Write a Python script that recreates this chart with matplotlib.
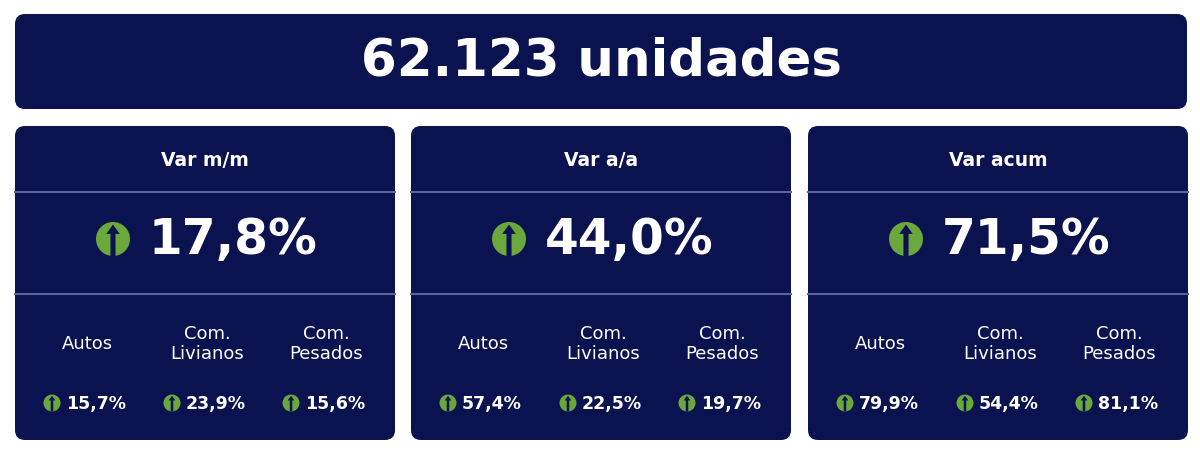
import matplotlib.pyplot as plt
from matplotlib.patches import FancyBboxPatch, Circle, Polygon

total_label = "62.123 unidades"
card_titles = ["Var m/m", "Var a/a", "Var acum"]
card_values = ["17,8%", "44,0%", "71,5%"]
segments = ["Autos", "Com.\nLivianos", "Com.\nPesados"]
segment_values = [
    ["15,7%", "23,9%", "15,6%"],
    ["57,4%", "22,5%", "19,7%"],
    ["79,9%", "54,4%", "81,1%"],
]

NAVY = "#0b1250"
GREEN = "#6aa83c"
LINE = "#5a6499"

W, H = 1200, 456
fig = plt.figure(figsize=(12, 4.56), dpi=100)
ax = fig.add_axes([0, 0, 1, 1])
ax.set_xlim(0, W)
ax.set_ylim(H, 0)
ax.axis("off")


def box(x0, y0, x1, y1):
    ax.add_patch(FancyBboxPatch((x0, y0), x1 - x0, y1 - y0,
                                boxstyle="round,pad=0,rounding_size=10",
                                fc=NAVY, ec="none"))


def up_icon(cx, cy, r):
    ax.add_patch(Circle((cx, cy), r, fc=GREEN, ec="none"))
    sw = r * 0.15
    hw = r * 0.4
    top = cy - r * 0.85
    neck = cy - r * 0.3
    bot = cy + r
    ax.add_patch(Polygon([(cx, top), (cx + hw, neck), (cx + sw, neck),
                          (cx + sw, bot), (cx - sw, bot), (cx - sw, neck),
                          (cx - hw, neck)], closed=True, fc=NAVY, ec="none"))


# banner
box(15, 15, 1187, 110)
ax.text(601, 62, total_label, color="white", fontsize=37, fontweight="bold",
        ha="center", va="center")

card_x = [15, 411, 808]
card_w = 380
sub_offsets = [72, 192, 311]

for i, x0 in enumerate(card_x):
    box(x0, 127, x0 + card_w, 441)
    cx = x0 + card_w / 2
    ax.text(cx, 161, card_titles[i], color="white", fontsize=13.5,
            fontweight="bold", ha="center", va="center")
    ax.plot([x0, x0 + card_w], [193, 193], color=LINE, lw=1.5)
    ax.plot([x0, x0 + card_w], [295, 295], color=LINE, lw=1.5)
    up_icon(x0 + 98, 240, 17)
    ax.text(x0 + 134, 240, card_values[i], color="white", fontsize=35,
            fontweight="bold", ha="left", va="center")
    for j, off in enumerate(sub_offsets):
        sx = x0 + off
        ax.text(sx, 344, segments[j], color="white", fontsize=13,
                ha="center", va="center", linespacing=1.2)
        up_icon(sx - 35, 404, 8.5)
        ax.text(sx - 21, 404, segment_values[i][j], color="white",
                fontsize=12.5, fontweight="bold", ha="left", va="center")

fig.savefig("out.png", dpi=100)
